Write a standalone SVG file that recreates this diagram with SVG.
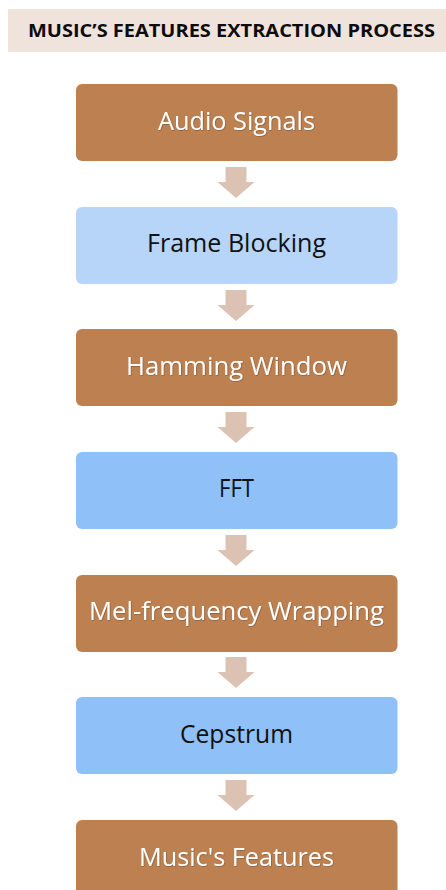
<svg xmlns="http://www.w3.org/2000/svg" width="446" height="890" viewBox="0 0 446 890">
  <defs>
    <style>
      .title { font-family: "Open Sans", "Liberation Sans", sans-serif; font-weight: bold; font-size: 17px; fill: #0c0c0c; }
      .box-brown { fill: #bd8050; }
      .box-pale { fill: #b7d5f9; }
      .box-blue { fill: #8fc0f7; }
      .lbl { font-family: "Open Sans", "Noto Sans", sans-serif; font-size: 25px; text-anchor: middle; }
      .lbl-w { fill: #ffffff; filter: url(#soft); }
      .lbl-k { fill: #111111; }
      .arrow { fill: #dcc2b2; }
    </style>
    <filter id="soft" x="-10%" y="-20%" width="120%" height="140%">
      <feDropShadow dx="0.6" dy="0.6" stdDeviation="0.6" flood-color="#5a3a20" flood-opacity="0.6"/>
    </filter>
    <!-- block arrow pointing down, centred on x=0, from y=0 to tip y=31 -->
    <path id="down" d="M -11 0 H 10 V 15 H 18 L -0.5 31 L -19 15 H -11 Z"/>
  </defs>

  <rect width="446" height="890" fill="#ffffff"/>

  <g id="header">
    <rect x="8" y="9" width="438" height="43" fill="#f0e3db"/>
    <text class="title" x="28" y="37" textLength="407" lengthAdjust="spacingAndGlyphs">MUSIC’S FEATURES EXTRACTION PROCESS</text>
  </g>

  <g id="connectors">
    <use href="#down" class="arrow" x="236.5" y="167"/>
    <use href="#down" class="arrow" x="236.5" y="290"/>
    <use href="#down" class="arrow" x="236.5" y="412"/>
    <use href="#down" class="arrow" x="236.5" y="535"/>
    <use href="#down" class="arrow" x="236.5" y="657"/>
    <use href="#down" class="arrow" x="236.5" y="780"/>
  </g>

  <g id="audio-signals">
    <rect class="box-brown" x="76" y="84" width="321.5" height="77" rx="6"/>
    <text class="lbl lbl-w" x="236.5" y="130" textLength="157" lengthAdjust="spacingAndGlyphs">Audio Signals</text>
  </g>

  <g id="frame-blocking">
    <rect class="box-pale" x="76" y="207" width="321.5" height="77" rx="6"/>
    <text class="lbl lbl-k" x="236.5" y="252" textLength="179" lengthAdjust="spacingAndGlyphs">Frame Blocking</text>
  </g>

  <g id="hamming-window">
    <rect class="box-brown" x="76" y="329" width="321.5" height="77" rx="6"/>
    <text class="lbl lbl-w" x="236.5" y="375" textLength="221" lengthAdjust="spacingAndGlyphs">Hamming Window</text>
  </g>

  <g id="fft">
    <rect class="box-blue" x="76" y="452" width="321.5" height="77" rx="6"/>
    <text class="lbl lbl-k" x="236.5" y="497" textLength="35" lengthAdjust="spacingAndGlyphs">FFT</text>
  </g>

  <g id="mel-frequency-wrapping">
    <rect class="box-brown" x="76" y="575" width="321.5" height="77" rx="6"/>
    <text class="lbl lbl-w" x="236.5" y="620" textLength="295" lengthAdjust="spacingAndGlyphs">Mel-frequency  Wrapping</text>
  </g>

  <g id="cepstrum">
    <rect class="box-blue" x="76" y="697" width="321.5" height="77" rx="6"/>
    <text class="lbl lbl-k" x="236.5" y="743" textLength="113" lengthAdjust="spacingAndGlyphs">Cepstrum</text>
  </g>

  <g id="musics-features">
    <rect class="box-brown" x="76" y="820" width="321.5" height="80" rx="6"/>
    <text class="lbl lbl-w" x="236.5" y="866" textLength="195" lengthAdjust="spacingAndGlyphs">Music's Features</text>
  </g>
</svg>
